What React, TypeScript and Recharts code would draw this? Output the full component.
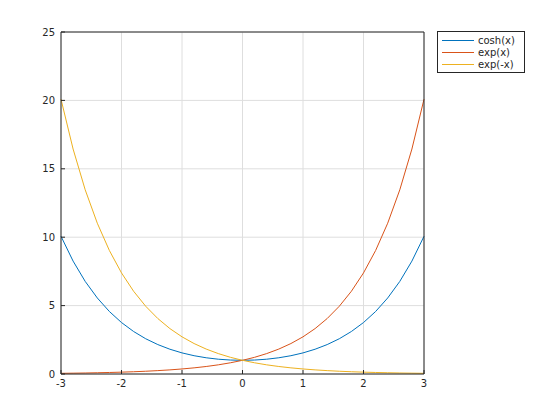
import React from "react";
import { LineChart, Line, XAxis, YAxis, CartesianGrid } from "recharts";

const xValues = [-3, -2.8, -2.6, -2.4, -2.2, -2, -1.8, -1.6, -1.4, -1.2, -1, -0.8, -0.6, -0.4, -0.2, 0, 0.2, 0.4, 0.6, 0.8, 1, 1.2, 1.4, 1.6, 1.8, 2, 2.2, 2.4, 2.6, 2.8, 3];
const coshValues = [10.068, 8.253, 6.769, 5.557, 4.568, 3.762, 3.107, 2.577, 2.151, 1.811, 1.543, 1.337, 1.186, 1.081, 1.02, 1, 1.02, 1.081, 1.186, 1.337, 1.543, 1.811, 2.151, 2.577, 3.107, 3.762, 4.568, 5.557, 6.769, 8.253, 10.068];
const expValues = [0.05, 0.061, 0.074, 0.091, 0.111, 0.135, 0.165, 0.202, 0.247, 0.301, 0.368, 0.449, 0.549, 0.67, 0.819, 1, 1.221, 1.492, 1.822, 2.226, 2.718, 3.32, 4.055, 4.953, 6.05, 7.389, 9.025, 11.023, 13.464, 16.445, 20.086];
const expNegValues = [20.086, 16.445, 13.464, 11.023, 9.025, 7.389, 6.05, 4.953, 4.055, 3.32, 2.718, 2.226, 1.822, 1.492, 1.221, 1, 0.819, 0.67, 0.549, 0.449, 0.368, 0.301, 0.247, 0.202, 0.165, 0.135, 0.111, 0.091, 0.074, 0.061, 0.05];

const xTicks = [-3, -2, -1, 0, 1, 2, 3];
const yTicks = [0, 5, 10, 15, 20, 25];

const series = [
  { key: "cosh", name: "cosh(x)", color: "#0072BD" },
  { key: "exp", name: "exp(x)", color: "#D95319" },
  { key: "expNeg", name: "exp(-x)", color: "#EDB120" },
];

const data = xValues.map((x, i) => ({
  x,
  cosh: coshValues[i],
  exp: expValues[i],
  expNeg: expNegValues[i],
}));

const FONT = "'DejaVu Sans', sans-serif";
const AXIS = "#262626";

// legend box sits outside the plot, drawn as plain html so it doesn't shrink the chart
function BoxLegend() {
  return (
    <div
      style={{
        position: "absolute",
        left: 437,
        top: 31,
        width: 88,
        boxSizing: "border-box",
        border: `1px solid ${AXIS}`,
        background: "#fff",
        padding: "2px 4px",
        fontFamily: FONT,
        fontSize: 10,
        color: AXIS,
      }}
    >
      {series.map((s) => (
        <div key={s.key} style={{ display: "flex", alignItems: "center", height: 12 }}>
          <span style={{ display: "inline-block", width: 32, height: 1, background: s.color, marginRight: 4 }} />
          <span>{s.name}</span>
        </div>
      ))}
    </div>
  );
}

export default function App() {
  return (
    <div style={{ position: "absolute", left: 0, top: 0, width: 560, height: 420, background: "#fff" }}>
      <LineChart
        width={560}
        height={420}
        data={data}
        margin={{ top: 31, right: 135, left: 21, bottom: 26 }}
      >
        <CartesianGrid stroke="#dedede" />
        <XAxis
          dataKey="x"
          type="number"
          domain={[-3, 3]}
          ticks={xTicks}
          height={20}
          stroke={AXIS}
          tickSize={-4}
          tickMargin={10}
          tick={{ fontSize: 10, fill: AXIS, fontFamily: FONT }}
        />
        <XAxis
          xAxisId="top"
          orientation="top"
          dataKey="x"
          type="number"
          domain={[-3, 3]}
          ticks={xTicks}
          height={1}
          stroke={AXIS}
          tickSize={-4}
          tick={false}
        />
        <YAxis
          type="number"
          domain={[0, 25]}
          ticks={yTicks}
          width={40}
          stroke={AXIS}
          tickSize={-4}
          tickMargin={10}
          tick={{ fontSize: 10, fill: AXIS, fontFamily: FONT }}
        />
        <YAxis
          yAxisId="right"
          orientation="right"
          type="number"
          domain={[0, 25]}
          ticks={yTicks}
          width={1}
          stroke={AXIS}
          tickSize={-4}
          tick={false}
        />
        {series.map((s) => (
          <Line
            key={s.key}
            type="linear"
            dataKey={s.key}
            name={s.name}
            stroke={s.color}
            strokeWidth={1}
            dot={false}
            isAnimationActive={false}
          />
        ))}
      </LineChart>
      <BoxLegend />
    </div>
  );
}
